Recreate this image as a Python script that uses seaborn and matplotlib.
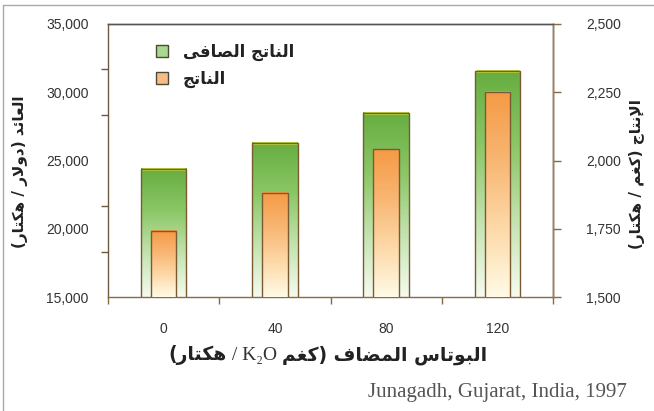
import numpy as np
import pandas as pd
import matplotlib
matplotlib.use("Agg")
import matplotlib.pyplot as plt
import seaborn as sns
from matplotlib.patches import Patch
from matplotlib.colors import LinearSegmentedColormap
from matplotlib.ticker import FixedLocator, StrMethodFormatter

# ---------------- data ----------------
doses = ["0", "40", "80", "120"]
net_returns = [24400, 26300, 28500, 31550]      # left axis, $/ha
yield_kg = [1742, 1882, 2042, 2252]             # right axis, kg/ha
left_ticks = [15000, 20000, 25000, 30000, 35000]
right_ticks = [1500, 1750, 2000, 2250, 2500]

label_net = "الناتج الصافى"
label_yield = "الناتج"
ylabel_left = "العائد (دولار / هكتار)"
ylabel_right = "الإنتاج (كغم / هكتار)"
xlabel_ar_start = "البوتاس المضاف (كغم"
xlabel_ar_end = "هكتار)"
xlabel_latin = "K₂O"
source = "Junagadh, Gujarat, India, 1997"

# ------------- Arabic shaping (presentation forms, visual order) -------------
FORMS = {
    'ا': ('\uFE8D', '\uFE8E', None, None),
    'إ': ('\uFE87', '\uFE88', None, None),
    'ب': ('\uFE8F', '\uFE90', '\uFE91', '\uFE92'),
    'ت': ('\uFE95', '\uFE96', '\uFE97', '\uFE98'),
    'ج': ('\uFE9D', '\uFE9E', '\uFE9F', '\uFEA0'),
    'د': ('\uFEA9', '\uFEAA', None, None),
    'ر': ('\uFEAD', '\uFEAE', None, None),
    'س': ('\uFEB1', '\uFEB2', '\uFEB3', '\uFEB4'),
    'ص': ('\uFEB9', '\uFEBA', '\uFEBB', '\uFEBC'),
    'ض': ('\uFEBD', '\uFEBE', '\uFEBF', '\uFEC0'),
    'ع': ('\uFEC9', '\uFECA', '\uFECB', '\uFECC'),
    'غ': ('\uFECD', '\uFECE', '\uFECF', '\uFED0'),
    'ف': ('\uFED1', '\uFED2', '\uFED3', '\uFED4'),
    'ك': ('\uFED9', '\uFEDA', '\uFEDB', '\uFEDC'),
    'ل': ('\uFEDD', '\uFEDE', '\uFEDF', '\uFEE0'),
    'م': ('\uFEE1', '\uFEE2', '\uFEE3', '\uFEE4'),
    'ن': ('\uFEE5', '\uFEE6', '\uFEE7', '\uFEE8'),
    'ه': ('\uFEE9', '\uFEEA', '\uFEEB', '\uFEEC'),
    'و': ('\uFEED', '\uFEEE', None, None),
    'ى': ('\uFEEF', '\uFEF0', None, None),
    'ئ': ('\uFE89', '\uFE8A', '\uFE8B', '\uFE8C'),
}
LAM_ALEF = {'ا': ('\uFEFB', '\uFEFC'), 'إ': ('\uFEF9', '\uFEFA')}


def _dual(c):
    return c in FORMS and FORMS[c][2] is not None


def ar(s):
    chars = list(s)
    n = len(chars)
    out = []
    i = 0
    while i < n:
        c = chars[i]
        if c not in FORMS:
            out.append(c)
            i += 1
            continue
        prev = chars[i - 1] if i > 0 else None
        cp = prev is not None and _dual(prev)
        if c == 'ل' and i + 1 < n and chars[i + 1] in LAM_ALEF:
            iso, fin = LAM_ALEF[chars[i + 1]]
            out.append(fin if cp else iso)
            i += 2
            continue
        nxt = chars[i + 1] if i + 1 < n else None
        cn = _dual(c) and nxt is not None and nxt in FORMS
        iso, fin, ini, med = FORMS[c]
        if cp and cn:
            out.append(med)
        elif cp:
            out.append(fin)
        elif cn:
            out.append(ini)
        else:
            out.append(iso)
        i += 1
    vis = ''.join(out)[::-1]
    return vis.translate(str.maketrans('()', ')('))


# ---------------- figure ----------------
sns.set_theme(style="white")
plt.rcParams['font.family'] = ['Liberation Sans', 'DejaVu Sans']

W, H = 654, 411
fig = plt.figure(figsize=(W / 100, H / 100), dpi=100)
fig.patch.set_facecolor("white")
ax = fig.add_axes([108 / W, 1 - 297 / H, 445 / W, 273 / H])
ax.set_facecolor("none")

df = pd.DataFrame({"dose": doses, "net": net_returns, "yield": yield_kg})

edge = "#7a5a32"
sns.barplot(data=df, x="dose", y="net", ax=ax, width=0.41,
            color="#7fbf5a", edgecolor=edge, linewidth=1.0, zorder=2)
ax.set_ylim(15000, 35000)
ax.set_xlim(-0.5, 3.5)

ax2 = ax.twinx()
sns.barplot(data=df, x="dose", y="yield", ax=ax2, width=0.23,
            color="#f6a55a", edgecolor=edge, linewidth=1.0, zorder=3)
ax2.set_ylim(1500, 2500)
ax2.set_xlim(-0.5, 3.5)

green_cmap = LinearSegmentedColormap.from_list(
    "g", ["#f6fbf0", "#c4e3b0", "#8cc767", "#66ad40"])
orange_cmap = LinearSegmentedColormap.from_list(
    "o", ["#fffbe6", "#fdd9a8", "#f8b673", "#f59a45"])
grad = np.linspace(0, 1, 256).reshape(-1, 1)


def fill_gradient(axis, cmap, ymin, top_strip=None):
    for p in axis.patches:
        x0 = p.get_x()
        w = p.get_width()
        top = p.get_y() + p.get_height()
        p.set_facecolor("none")
        axis.imshow(grad, extent=[x0, x0 + w, ymin, top], origin="lower",
                    cmap=cmap, aspect="auto", zorder=p.get_zorder() - 0.1,
                    interpolation="bilinear")
        if top_strip is not None:
            axis.plot([x0 + 0.01, x0 + w - 0.01], [top, top], color=top_strip,
                      lw=2.2, zorder=p.get_zorder() - 0.05, solid_capstyle="butt")


fill_gradient(ax, green_cmap, 15000, top_strip="#b9d63f")
fill_gradient(ax2, orange_cmap, 1500)
ax.set_ylim(15000, 35000)
ax.set_xlim(-0.5, 3.5)
ax2.set_ylim(1500, 2500)
ax2.set_xlim(-0.5, 3.5)

# ---------------- axes styling ----------------
tick_color = "#333333"
for a in (ax, ax2):
    for s in a.spines.values():
        s.set_visible(True)
        s.set_linewidth(1.0)
ax.spines["left"].set_color("#6b5a40")
ax.spines["bottom"].set_color("#8a6a40")
ax.spines["top"].set_color("#555555")
ax2.spines["right"].set_color("#b07a3a")
ax2.spines["top"].set_color("#555555")
ax2.spines["left"].set_visible(False)
ax2.spines["bottom"].set_visible(False)

ax.yaxis.set_major_locator(FixedLocator(left_ticks))
ax.yaxis.set_major_formatter(StrMethodFormatter("{x:,.0f}"))
ax.yaxis.set_minor_locator(FixedLocator(list(np.linspace(15000, 35000, 7))))
ax.tick_params(axis="y", which="major", left=True, length=0, pad=14,
               labelsize=10, labelcolor=tick_color)
ax.tick_params(axis="y", which="minor", left=True, length=5, width=1,
               color="#6b5a40", direction="out")

ax2.yaxis.set_major_locator(FixedLocator(right_ticks))
ax2.yaxis.set_major_formatter(StrMethodFormatter("{x:,.0f}"))
ax2.tick_params(axis="y", which="major", right=True, length=6, width=1,
                color="#8a6a40", direction="out", pad=18,
                labelsize=10, labelcolor=tick_color)
ax2.set_ylabel("")

ax.xaxis.set_minor_locator(FixedLocator([-0.5, 0.5, 1.5, 2.5, 3.5]))
ax.tick_params(axis="x", which="major", bottom=True, length=0, pad=18,
               labelsize=10, labelcolor=tick_color)
ax.tick_params(axis="x", which="minor", bottom=True, length=5, width=1,
               color="#8a6a40", direction="out")
ax.set_xlabel("")
ax.set_ylabel("")
ax2.grid(False)
ax.grid(False)

# ---------------- texts ----------------
arfont = dict(family=["DejaVu Sans"], fontweight="bold", color="#222222")
fig.text(20 / W, 1 - 172 / H, ar(ylabel_left), rotation=90,
         ha="center", va="center", fontsize=11, **arfont)
fig.text(637 / W, 1 - 174 / H, ar(ylabel_right), rotation=90,
         ha="center", va="center", fontsize=11, **arfont)

# x label built from three pieces (Arabic bold + serif K2O), in visual order
renderer = fig.canvas.get_renderer()
ypos = 1 - 355 / H
pieces = [
    (ar(xlabel_ar_end), dict(family=["DejaVu Sans"], fontweight="bold", fontsize=13.5, color="#222222")),
    (" / " + xlabel_latin + " ", dict(family=["Liberation Serif", "DejaVu Serif"], fontsize=14, color="#333333")),
    (ar(xlabel_ar_start), dict(family=["DejaVu Sans"], fontweight="bold", fontsize=13.5, color="#222222")),
]
texts = [fig.text(0, ypos, s, ha="left", va="center", **kw) for s, kw in pieces]
widths = [t.get_window_extent(renderer).width for t in texts]
x = 328 - sum(widths) / 2
for t, w in zip(texts, widths):
    t.set_x(x / W)
    x += w

fig.text(627 / W, 1 - 392 / H, source, ha="right", va="center",
         fontsize=15, family=["Liberation Serif"], color="#555555")

handles = [Patch(facecolor="#a9d88e", edgecolor="#4a4a3a", linewidth=1.0),
           Patch(facecolor="#f8bd86", edgecolor="#4a4a3a", linewidth=1.0)]
leg = ax2.legend(handles, [ar(label_net), ar(label_yield)],
                 loc="upper left", bbox_to_anchor=(0.075, 0.985),
                 frameon=False, handlelength=0.7, handleheight=0.7,
                 handletextpad=0.9, labelspacing=0.5,
                 prop=dict(family=["DejaVu Sans"], weight="bold", size=12))
for t in leg.get_texts():
    t.set_color("#222222")

# thin frame lines of the page
fig.add_artist(plt.Line2D([3 / W, 1], [1 - 5 / H, 1 - 5 / H],
                          transform=fig.transFigure, color="#aaaaaa", lw=1))
fig.add_artist(plt.Line2D([3 / W, 3 / W], [0, 1 - 5 / H],
                          transform=fig.transFigure, color="#aaaaaa", lw=1))

fig.savefig("out.png", dpi=100)
